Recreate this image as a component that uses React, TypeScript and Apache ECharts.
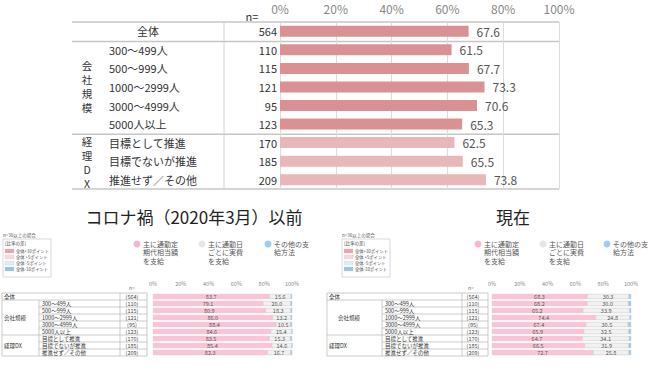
import React, { useEffect, useRef } from "react";
import * as echarts from "echarts";

// ---------- data ----------
const categories = [
  "全体",
  "300～499人",
  "500～999人",
  "1000～2999人",
  "3000～4999人",
  "5000人以上",
  "目標として推進",
  "目標でないが推進",
  "推進せず／その他",
];
const nValues = [564, 110, 115, 121, 95, 123, 170, 185, 209];
const topValues = [67.6, 61.5, 67.7, 73.3, 70.6, 65.3, 62.5, 65.5, 73.8];
const topGroupLabels = ["会社規模", "経理DX"];
const bottomGroupLabels = ["全体", "会社規模", "経理DX"];

const beforeCommuter = [83.7, 79.1, 80.9, 86.0, 88.4, 84.6, 83.5, 85.4, 82.3];
const beforeActual = [15.6, 20.0, 18.3, 13.2, 10.5, 15.4, 15.3, 14.6, 16.7];
const beforeOther = [0.7, 0.9, 0.8, 0.8, 1.1, 0.0, 1.2, 0.0, 1.0];

const nowCommuter = [68.3, 68.2, 65.2, 74.4, 67.4, 65.9, 64.7, 66.5, 72.7];
const nowActual = [30.3, 30.0, 33.9, 24.8, 30.5, 32.5, 34.1, 31.9, 25.8];
const nowOther = [1.4, 1.8, 0.9, 0.8, 2.1, 1.6, 1.2, 1.6, 1.5];

const titles = ["コロナ禍（2020年3月）以前", "現在"];
const legendNames = ["主に通勤定\n期代相当額\nを支給", "主に通勤日\nごとに実費\nを支給", "その他の支\n給方法"];
const diffTitle = "n=30以上の場合";
const diffHeader = "[比率の差]";
const diffLegend = ["全体+10ポイント", "全体 +5ポイント", "全体 -5ポイント", "全体-10ポイント"];

// ---------- style ----------
const FONT = '"Noto Sans CJK JP", "Noto Sans", sans-serif';
const DARK = "#d99194";
const LIGHT = "#e7b7b9";
const PINK = "#f9c4d7";
const GRAY = "#f1f1f1";
const BLUE = "#a3c9ec";
const diffColors = ["#f2a0ab", "#fbd6dc", "#dcedf8", "#97c3ec"];
const legendColors = ["#f6b7ce", "#e6e6e6", "#a0cbf2"];
const SMALL = 5.5;

const TOP = { left: 280, top: 22, width: 279, height: 167 };
const BOT_TOP = 293;
const BOT_H = 63;

function text(x: number, y: number, t: string, fontSize: number, o: any = {}) {
  return {
    type: "text",
    silent: true,
    x,
    y,
    style: {
      text: t,
      fontSize,
      fontFamily: FONT,
      fill: o.fill || "#333",
      align: o.align || "left",
      verticalAlign: o.va || "middle",
      lineHeight: o.lh,
    },
  };
}
function line(x1: number, y1: number, x2: number, y2: number, stroke = "#bbb", lineWidth = 1) {
  return { type: "line", silent: true, shape: { x1, y1, x2, y2 }, style: { stroke, lineWidth } };
}

function buildTopGraphics() {
  const g: any[] = [];
  const rh = TOP.height / categories.length;
  const rowY = (i: number) => TOP.top + rh * (i + 0.5);
  const x0 = 72;
  const right = TOP.left + TOP.width;
  const bottom = TOP.top + TOP.height;
  [TOP.top, TOP.top + rh + 1, TOP.top + rh * 6 + 1, bottom].forEach((y) =>
    g.push(line(x0, y, right, y, "#c6c6c6", 1.5))
  );
  g.push(line(224, TOP.top, 224, bottom, "#d2d2d2", 1));
  g.push(text(252, 16, "n=", 11, { align: "center" }));
  g.push(text(148, rowY(0), categories[0], 11, { align: "center" }));
  for (let i = 1; i < categories.length; i++) g.push(text(109, rowY(i), categories[i], 11));
  g.push(text(87, (rowY(1) + rowY(5)) / 2, topGroupLabels[0].split("").join("\n"), 10.5, { align: "center", lh: 14 }));
  g.push(text(87, (rowY(6) + rowY(8)) / 2 + 1, topGroupLabels[1].split("").join("\n"), 10.5, { align: "center", lh: 14 }));
  return g;
}

function buildBottomGraphics(p: any) {
  const g: any[] = [];
  const [a, b, c, d] = p.cols;
  const rh = BOT_H / categories.length;
  const rowY = (i: number) => BOT_TOP + rh * (i + 0.5);
  const bottom = BOT_TOP + BOT_H;
  // title
  g.push(text(p.titleX, 216, p.title, 17, { align: "center", fill: "#222" }));
  // diff legend box
  g.push(text(p.boxX, 235, diffTitle, 4.5, { fill: "#555", lh: 4.5 }));
  g.push({ type: "rect", silent: true, shape: { x: p.boxX, y: 239, width: 48, height: 38 }, style: { fill: "#fff", stroke: "#c8c8c8", lineWidth: 0.7 } });
  g.push(text(p.boxX + 2, 243, diffHeader, 4.5, { fill: "#444", lh: 4.5 }));
  diffLegend.forEach((t, i) => {
    const y = 251 + i * 6;
    g.push({ type: "rect", silent: true, shape: { x: p.boxX + 2, y: y - 2, width: 9, height: 4 }, style: { fill: diffColors[i], stroke: "#ccc", lineWidth: 0.3 } });
    g.push(text(p.boxX + 13, y, t, 4.3, { fill: "#444", lh: 4.5 }));
  });
  // series legend
  legendNames.forEach((t, i) => {
    g.push({ type: "circle", silent: true, shape: { cx: p.legendX[i], cy: 244, r: 3.5 }, style: { fill: legendColors[i] } });
    g.push(text(p.legendX[i] + 6, 239.5, t, 7, { va: "top", lh: 8.5, fill: "#555" }));
  });
  g.push(text(p.nLabelX, 287, "n=", 5, { align: "center", fill: "#666", lh: 5 }));
  // table lines
  const full = [BOT_TOP, BOT_TOP + rh, BOT_TOP + rh * 6, bottom];
  full.forEach((y) => g.push(line(a, y, d, y, "#b5b5b5", 0.7)));
  [2, 3, 4, 5, 7, 8].forEach((k) => g.push(line(b, BOT_TOP + rh * k, d, BOT_TOP + rh * k, "#b5b5b5", 0.7)));
  g.push(line(a, BOT_TOP, a, bottom, "#b5b5b5", 0.7));
  g.push(line(b, BOT_TOP + rh, b, bottom, "#b5b5b5", 0.7));
  g.push(line(c, BOT_TOP, c, bottom, "#b5b5b5", 0.7));
  g.push(line(d, BOT_TOP, d, bottom, "#b5b5b5", 0.7));
  // table texts
  g.push(text(p.groupX[0], rowY(0), bottomGroupLabels[0], SMALL, { lh: SMALL }));
  g.push(text(p.groupX[1], (rowY(1) + rowY(5)) / 2, bottomGroupLabels[1], SMALL, { lh: SMALL }));
  g.push(text(p.groupX[2], (rowY(6) + rowY(8)) / 2, bottomGroupLabels[2], SMALL, { lh: SMALL }));
  for (let i = 1; i < categories.length; i++) g.push(text(b + 3, rowY(i), categories[i], SMALL, { lh: SMALL }));
  return g;
}

function stackSeries(idx: number, vals: number[][]) {
  const colors = [PINK, GRAY, BLUE];
  const borders = ["#eaa6c0", "#b9b9b9", "#8fb8de"];
  return vals.map((v, k) => ({
    type: "bar",
    name: legendNames[k],
    xAxisIndex: idx,
    yAxisIndex: idx,
    stack: "s" + idx,
    barWidth: 5,
    data: v,
    itemStyle: { color: colors[k], borderColor: borders[k], borderWidth: 0.4 },
    label: {
      show: k < 2,
      position: "inside",
      fontSize: SMALL,
      lineHeight: SMALL,
      fontFamily: FONT,
      color: "#555",
      formatter: (q: any) => Number(q.value).toFixed(1),
    },
  }));
}

export default function App() {
  const ref = useRef<HTMLDivElement>(null);
  useEffect(() => {
    if (!ref.current) return;
    const chart = echarts.init(ref.current, undefined, { renderer: "svg" });
    const bottomX = (gi: number, margin: number) => ({
      gridIndex: gi,
      type: "value",
      position: "top",
      min: 0,
      max: 100,
      interval: 20,
      axisLine: { show: false },
      axisTick: { show: false },
      splitLine: { show: false },
      axisLabel: { formatter: "{value}%", fontSize: 5.5, lineHeight: 6, color: "#888", margin, fontFamily: FONT },
    });
    const bottomY = (gi: number, margin: number) => ({
      gridIndex: gi,
      type: "category",
      inverse: true,
      data: categories,
      axisLine: { show: false },
      axisTick: { show: false },
      axisLabel: {
        interval: 0,
        align: "center",
        margin,
        fontSize: SMALL,
        lineHeight: SMALL,
        color: "#444",
        fontFamily: FONT,
        formatter: (_v: string, i: number) => "(" + nValues[i] + ")",
      },
    });
    const left = {
      cols: [2, 39, 120, 147],
      titleX: 194,
      title: titles[0],
      boxX: 3,
      legendX: [137, 202, 268],
      nLabelX: 132,
      groupX: [4, 4, 4],
    };
    const right = {
      cols: [327, 382, 462, 488],
      titleX: 513,
      title: titles[1],
      boxX: 342,
      legendX: [478, 543, 607],
      nLabelX: 471,
      groupX: [329, 338, 329],
    };
    const option: any = {
      animation: false,
      backgroundColor: "#fff",
      grid: [
        { left: TOP.left, top: TOP.top, width: TOP.width, height: TOP.height },
        { left: 153, top: BOT_TOP, width: 139, height: BOT_H },
        { left: 492, top: BOT_TOP, width: 139, height: BOT_H },
      ],
      xAxis: [
        {
          gridIndex: 0,
          type: "value",
          position: "top",
          min: 0,
          max: 100,
          interval: 20,
          axisLine: { show: false },
          axisTick: { show: false },
          splitLine: { show: true, lineStyle: { color: "#dcdcdc", width: 1 } },
          axisLabel: { formatter: "{value}%", fontSize: 12, color: "#888", margin: 8, fontFamily: FONT },
        },
        bottomX(1, 6),
        bottomX(2, 6),
      ],
      yAxis: [
        {
          gridIndex: 0,
          type: "category",
          inverse: true,
          data: categories,
          axisLine: { show: false },
          axisTick: { show: false },
          axisLabel: {
            interval: 0,
            margin: 3,
            fontSize: 11,
            color: "#333",
            fontFamily: FONT,
            formatter: (_v: string, i: number) => String(nValues[i]),
          },
        },
        bottomY(1, 21),
        bottomY(2, 19),
      ],
      series: [
        {
          type: "bar",
          xAxisIndex: 0,
          yAxisIndex: 0,
          barWidth: 11,
          data: topValues.map((v, i) => ({ value: v, itemStyle: { color: i < 6 ? DARK : LIGHT } })),
          label: {
            show: true,
            position: "right",
            distance: 8,
            fontSize: 12,
            color: "#555",
            fontFamily: FONT,
            formatter: (q: any) => Number(q.value).toFixed(1),
          },
        },
        ...stackSeries(1, [beforeCommuter, beforeActual, beforeOther]),
        ...stackSeries(2, [nowCommuter, nowActual, nowOther]),
      ],
      graphic: [...buildTopGraphics(), ...buildBottomGraphics(left), ...buildBottomGraphics(right)],
    };
    chart.setOption(option);
    return () => chart.dispose();
  }, []);
  return <div ref={ref} style={{ position: "fixed", left: 0, top: 0, width: 650, height: 380 }} />;
}
